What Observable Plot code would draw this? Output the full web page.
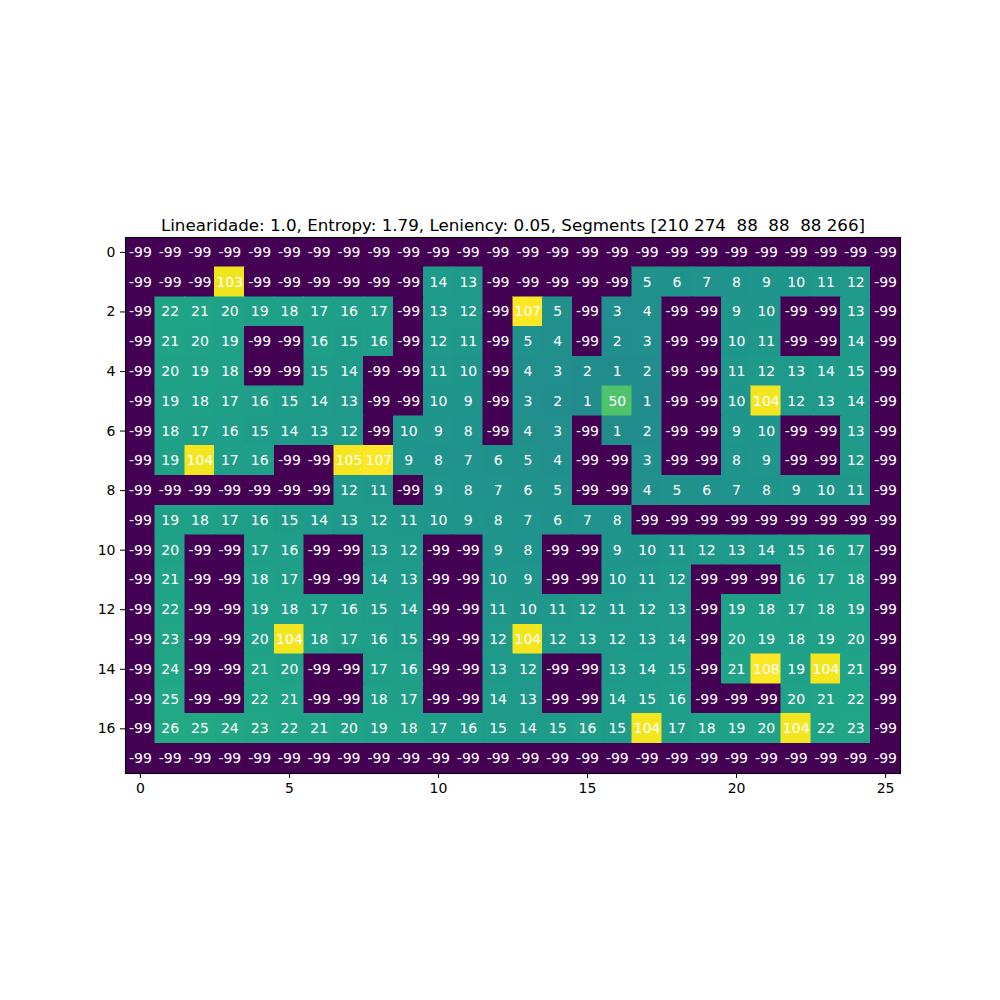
<!DOCTYPE html>
<html>
<head>
<meta charset="utf-8">
<script src="https://cdn.jsdelivr.net/npm/d3@7"></script>
<script src="https://cdn.jsdelivr.net/npm/@observablehq/plot@0.6"></script>
<style>
  html, body { margin: 0; padding: 0; background: #fff; }
  #chart { width: 1000px; height: 1000px; }
</style>
</head>
<body>
<div id="chart"></div>
<script>
const title = "Linearidade: 1.0, Entropy: 1.79, Leniency: 0.05, Segments [210 274  88  88  88 266]";
const xTicks = [0, 5, 10, 15, 20, 25];
const yTicks = [0, 2, 4, 6, 8, 10, 12, 14, 16];
const grid = [
  [-99,-99,-99,-99,-99,-99,-99,-99,-99,-99,-99,-99,-99,-99,-99,-99,-99,-99,-99,-99,-99,-99,-99,-99,-99,-99],
  [-99,-99,-99,103,-99,-99,-99,-99,-99,-99,14,13,-99,-99,-99,-99,-99,5,6,7,8,9,10,11,12,-99],
  [-99,22,21,20,19,18,17,16,17,-99,13,12,-99,107,5,-99,3,4,-99,-99,9,10,-99,-99,13,-99],
  [-99,21,20,19,-99,-99,16,15,16,-99,12,11,-99,5,4,-99,2,3,-99,-99,10,11,-99,-99,14,-99],
  [-99,20,19,18,-99,-99,15,14,-99,-99,11,10,-99,4,3,2,1,2,-99,-99,11,12,13,14,15,-99],
  [-99,19,18,17,16,15,14,13,-99,-99,10,9,-99,3,2,1,50,1,-99,-99,10,104,12,13,14,-99],
  [-99,18,17,16,15,14,13,12,-99,10,9,8,-99,4,3,-99,1,2,-99,-99,9,10,-99,-99,13,-99],
  [-99,19,104,17,16,-99,-99,105,107,9,8,7,6,5,4,-99,-99,3,-99,-99,8,9,-99,-99,12,-99],
  [-99,-99,-99,-99,-99,-99,-99,12,11,-99,9,8,7,6,5,-99,-99,4,5,6,7,8,9,10,11,-99],
  [-99,19,18,17,16,15,14,13,12,11,10,9,8,7,6,7,8,-99,-99,-99,-99,-99,-99,-99,-99,-99],
  [-99,20,-99,-99,17,16,-99,-99,13,12,-99,-99,9,8,-99,-99,9,10,11,12,13,14,15,16,17,-99],
  [-99,21,-99,-99,18,17,-99,-99,14,13,-99,-99,10,9,-99,-99,10,11,12,-99,-99,-99,16,17,18,-99],
  [-99,22,-99,-99,19,18,17,16,15,14,-99,-99,11,10,11,12,11,12,13,-99,19,18,17,18,19,-99],
  [-99,23,-99,-99,20,104,18,17,16,15,-99,-99,12,104,12,13,12,13,14,-99,20,19,18,19,20,-99],
  [-99,24,-99,-99,21,20,-99,-99,17,16,-99,-99,13,12,-99,-99,13,14,15,-99,21,108,19,104,21,-99],
  [-99,25,-99,-99,22,21,-99,-99,18,17,-99,-99,14,13,-99,-99,14,15,16,-99,-99,-99,20,21,22,-99],
  [-99,26,25,24,23,22,21,20,19,18,17,16,15,14,15,16,15,104,17,18,19,20,104,22,23,-99],
  [-99,-99,-99,-99,-99,-99,-99,-99,-99,-99,-99,-99,-99,-99,-99,-99,-99,-99,-99,-99,-99,-99,-99,-99,-99,-99]
];

const cells = [];
grid.forEach((row, r) => row.forEach((v, c) => cells.push({row: r, col: c, v})));
const nRows = grid.length, nCols = grid[0].length;
const vMin = d3.min(cells, d => d.v), vMax = d3.max(cells, d => d.v);

const chart = Plot.plot({
  width: 1000,
  height: 1000,
  marginLeft: 125,
  marginRight: 100,
  marginTop: 237,
  marginBottom: 227,
  style: {fontFamily: "DejaVu Sans", fontSize: "14px", background: "white", color: "black"},
  x: {domain: [-0.5, nCols - 0.5], ticks: xTicks, label: null},
  y: {domain: [nRows - 0.5, -0.5], ticks: yTicks, label: null},
  color: {type: "linear", scheme: "viridis", domain: [vMin, vMax]},
  marks: [
    Plot.rect(cells, {
      x1: d => d.col - 0.5, x2: d => d.col + 0.5,
      y1: d => d.row - 0.5, y2: d => d.row + 0.5,
      fill: "v", inset: 0, shapeRendering: "crispEdges", stroke: "v", strokeWidth: 0.5
    }),
    Plot.text(cells, {x: "col", y: "row", text: d => String(d.v), fill: "white", fontSize: 14}),
    Plot.frame({stroke: "black", strokeWidth: 1.1}),
    Plot.axisX({ticks: xTicks, tickSize: 5, tickPadding: 5, fontSize: 14, label: null, tickFormat: d => String(d)}),
    Plot.axisY({ticks: yTicks, tickSize: 5, tickPadding: 5, fontSize: 14, label: null, tickFormat: d => String(d)}),
    Plot.text([title], {frameAnchor: "top", lineAnchor: "bottom", dy: -7, fontSize: 16.7, fill: "black", text: d => d})
  ]
});
document.getElementById("chart").appendChild(chart);
</script>
</body>
</html>
